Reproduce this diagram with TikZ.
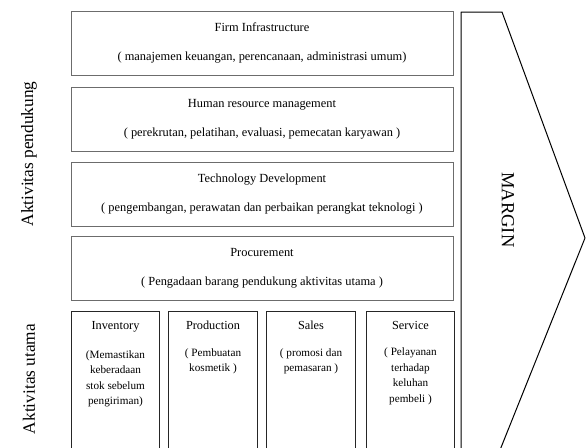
\documentclass[tikz,border=0pt]{standalone}
\usepackage{fontspec}
\setmainfont{Liberation Serif}
\usetikzlibrary{positioning}
\begin{document}
\begin{tikzpicture}[x=1pt,y=-1pt,
  support/.style={draw=gray!85!black, line width=0.8pt, minimum width=382pt,
    minimum height=64pt, align=center, inner sep=0pt,
    font=\fontsize{12.4}{14}\selectfont},
  primary/.style={draw=black!85, line width=1pt, minimum width=88pt,
    minimum height=150pt, anchor=north west, inner sep=0pt},
  ptitle/.style={font=\fontsize{12.3}{14}\selectfont, inner sep=0pt},
  pdesc/.style={font=\fontsize{11.2}{15.5}\selectfont, align=center, inner sep=0pt},
  side/.style={font=\fontsize{17.3}{19}\selectfont, rotate=90}]
  \clip (0,0) rectangle (586,447);
  % aktivitas pendukung
  \node[support] (firm) at (262,43)
    {Firm Infrastructure\\[15pt]( manajemen keuangan, perencanaan, administrasi umum)};
  \node[support] (hrm) at (262,119)
    {Human resource management\\[15pt]( perekrutan, pelatihan, evaluasi, pemecatan karyawan )};
  \node[support] (tech) at (262,194)
    {Technology Development\\[15pt]( pengembangan, perawatan dan perbaikan perangkat teknologi )};
  \node[support] (proc) at (262,268)
    {Procurement\\[15pt]( Pengadaan barang pendukung aktivitas utama )};
  % aktivitas utama
  \node[primary] (inv) at (71,311) {};
  \node[primary, minimum width=89pt] (prod) at (168,311) {};
  \node[primary, minimum width=89pt] (sales) at (266,311) {};
  \node[primary] (serv) at (366,311) {};
  \node[ptitle, below=10pt of inv.north] (invt) {Inventory};
  \node[ptitle, below=10pt of prod.north] (prodt) {Production};
  \node[ptitle, below=10pt of sales.north] (salest) {Sales};
  \node[ptitle, below=10pt of serv.north] (servt) {Service};
  \node[pdesc, below=18pt of invt.south] (invd)
    {(Memastikan\\keberadaan\\stok sebelum\\pengiriman)};
  \node[pdesc, below=18pt of prodt.south] (prodd)
    {( Pembuatan\\kosmetik )};
  \node[pdesc, below=18pt of salest.south] (salesd)
    {( promosi dan\\pemasaran )};
  \node[pdesc, below=18pt of servt.south] (servd)
    {( Pelayanan\\terhadap\\keluhan\\pembeli )};
  % margin
  \draw[line width=1pt, line join=round] (461,460) -- (461,12) -- (502,12)
    -- (585,238) -- (496,460);
  \node[font=\fontsize{18.5}{20}\selectfont, rotate=-90] (margin) at (508,210) {MARGIN};
  % label samping
  \node[side] (pendukung) at (29,154) {Aktivitas pendukung};
  \node[side] (utama) at (29,379) {Aktivitas utama};
\end{tikzpicture}
\end{document}
